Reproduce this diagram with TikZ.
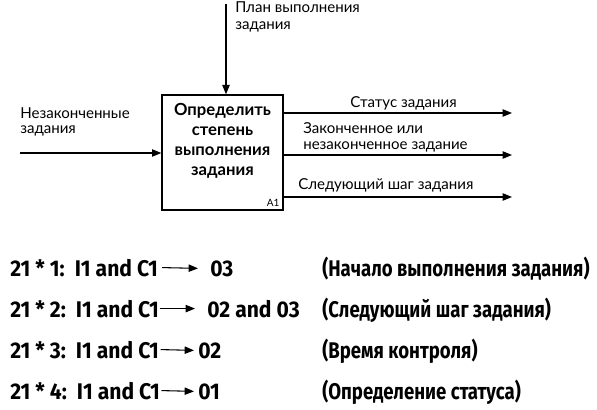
\documentclass[tikz,border=0pt]{standalone}
\usepackage{fontspec}
\setmainfont{Lato}
\newfontfamily\handfont[FakeStretch=0.93]{Fira Sans}
\newfontfamily\notefont[FakeStretch=0.82]{Fira Sans}
\usetikzlibrary{arrows.meta}

\tikzset{
  etiqueta/.style={anchor=base west, inner sep=0pt, align=left,
    font=\fontsize{11.3}{12}\selectfont},
  regla/.style={anchor=base west, inner sep=0pt,
    font=\handfont\bfseries\fontsize{17}{20}\selectfont},
  nota/.style={anchor=base west, inner sep=0pt,
    font=\notefont\bfseries\fontsize{17}{20}\selectfont},
  flecha/.style={->, line width=0.8pt}
}

\begin{document}
\begin{tikzpicture}[x=0.75pt, y=-0.75pt, >={Triangle[length=7pt,width=5.5pt]}]
        \useasboundingbox (0,0) rectangle (597,410);
        % --- Bloque de la funcion A1 ---
        \node[draw, line width=1pt, minimum width=90.75pt, minimum height=86.25pt] (Bloque) at (222.5,152.5) {};
        \node[anchor=north, inner sep=0pt, align=center,
              font=\bfseries\fontsize{12.5}{15}\selectfont] (Nombre) at (222.5,103)
              {Определить\\степень\\выполнения\\задания};
        \node[anchor=south east, inner sep=3pt, font=\fontsize{7.5}{9}\selectfont] (Codigo) at (Bloque.south east) {A1};

        % --- Control, entrada y salidas ---
        \coordinate (Control) at (226,4);
        \coordinate (Entrada) at (20,153);
        \coordinate (Salida1) at (512,113);
        \coordinate (Salida2) at (512,155);
        \coordinate (Salida3) at (512,197);
        \draw[flecha] (Control) -- (Control |- Bloque.north);
        \draw[flecha] (Entrada) -- (Entrada -| Bloque.west);
        \draw[flecha] (Salida1 -| Bloque.east) -- (Salida1);
        \draw[flecha] (Salida2 -| Bloque.east) -- (Salida2);
        \draw[flecha] (Salida3 -| Bloque.east) -- (Salida3);

        % --- Etiquetas de las flechas (base = ultima linea) ---
        \node[etiqueta, font=\fontsize{11.3}{12.8}\selectfont] (Plan) at (235,30) {План выполнения\\задания};
        \node[etiqueta] (Pendientes) at (20,134) {Незаконченные\\задания};
        \node[etiqueta] (Estado) at (350,108) {Статус задания};
        \node[etiqueta] (Terminado) at (303,150) {Законченное или\\незаконченное задание};
        \node[etiqueta] (Siguiente) at (298,190) {Следующий шаг задания};

        % --- Reglas ---
        \node[regla] (Izq1) at (10,276) {21 * 1:\ \ I1 and C1};
        \node[regla] (Der1) at (210,276) {03};
        \node[regla] (Izq2) at (10,317) {21 * 2:\ \ I1 and C1};
        \node[regla] (Der2) at (207,317) {02 and 03};
        \node[regla] (Izq3) at (10,358) {21 * 3:\ \ I1 and C1};
        \node[regla] (Der3) at (198,358) {02};
        \node[regla] (Izq4) at (10,399) {21 * 4:\ \ I1 and C1};
        \node[regla] (Der4) at (198,399) {01};
        \draw[flecha] ([xshift=3pt]Izq1.east) -- ([xshift=-9pt]Der1.west);
        \draw[flecha] ([xshift=1pt]Izq2.east) -- ([xshift=-9pt]Der2.west);
        \draw[flecha] ([xshift=1pt]Izq3.east) -- ([xshift=-3pt]Der3.west);
        \draw[flecha] ([xshift=1pt]Izq4.east) -- ([xshift=-3pt]Der4.west);

        % --- Comentarios de las reglas ---
        \node[nota] (Nota1) at (322,276) {(Начало выполнения задания)};
        \node[nota] (Nota2) at (322,317) {(Следующий шаг задания)};
        \node[nota] (Nota3) at (322,358) {(Время контроля)};
        \node[nota] (Nota4) at (322,399) {(Определение статуса)};
    \end{tikzpicture}
\end{document}
